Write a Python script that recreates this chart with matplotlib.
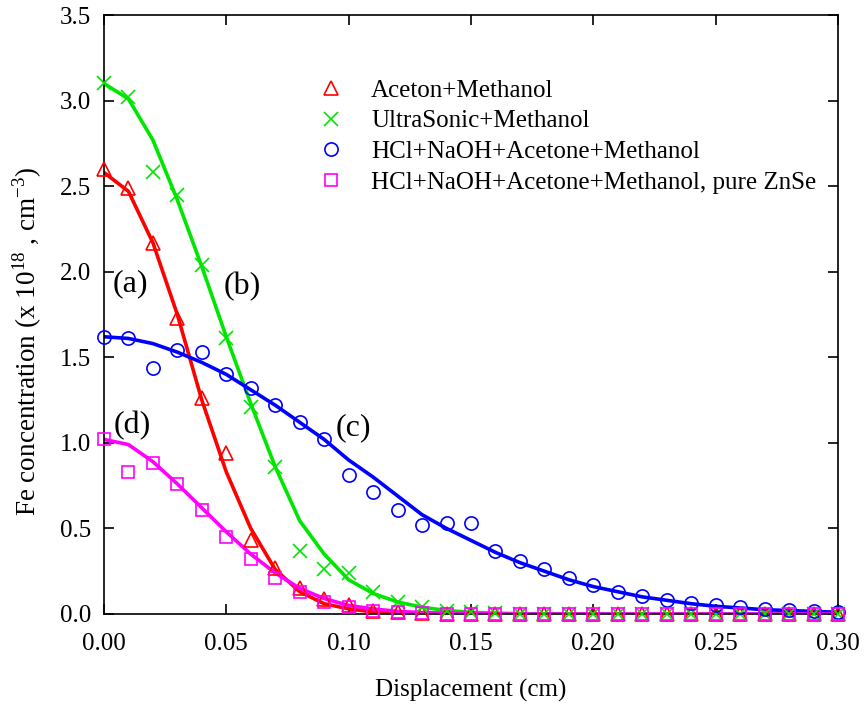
import matplotlib
matplotlib.use("Agg")
import matplotlib.pyplot as plt
import numpy as np

plt.rcParams['font.family'] = ['Liberation Serif', 'DejaVu Serif']
plt.rcParams['mathtext.fontset'] = 'custom'
plt.rcParams['mathtext.rm'] = 'Liberation Serif'

# Displacement grid (cm)
x = [round(0.01 * i, 2) for i in range(31)]

# Measured Fe concentration (x1e18 cm^-3)
aceton_pts = [2.60, 2.49, 2.17, 1.73, 1.26, 0.94, 0.43, 0.27, 0.15, 0.09, 0.05,
              0.02, 0.01, 0.005, 0.0, 0.0, 0.0, 0.0, 0.0, 0.0, 0.0, 0.0, 0.0, 0.0,
              0.0, 0.0, 0.0, 0.0, 0.0, 0.0, 0.0]
ultra_pts = [3.10, 3.02, 2.58, 2.45, 2.04, 1.61, 1.21, 0.86, 0.37, 0.26, 0.24,
             0.13, 0.07, 0.04, 0.02, 0.01, 0.005, 0.0, 0.0, 0.0, 0.0, 0.0, 0.0,
             0.0, 0.0, 0.0, 0.0, 0.0, 0.0, 0.0, 0.0]
hcl_pts = [1.62, 1.61, 1.44, 1.54, 1.53, 1.40, 1.32, 1.22, 1.12, 1.02, 0.81,
           0.71, 0.61, 0.52, 0.53, 0.53, 0.37, 0.31, 0.26, 0.21, 0.17, 0.13,
           0.105, 0.08, 0.064, 0.052, 0.04, 0.03, 0.022, 0.02, 0.013]
znse_pts = [1.02, 0.83, 0.88, 0.76, 0.61, 0.45, 0.32, 0.21, 0.13, 0.07, 0.04,
            0.02, 0.01, 0.005, 0.0, 0.0, 0.0, 0.0, 0.0, 0.0, 0.0, 0.0, 0.0, 0.0,
            0.0, 0.0, 0.0, 0.0, 0.0, 0.0, 0.0]

# Fitted diffusion profiles
aceton_fit = [2.58, 2.47, 2.17, 1.75, 1.25, 0.83, 0.50, 0.26, 0.13, 0.06, 0.03,
              0.012, 0.005, 0.002, 0.0, 0.0, 0.0, 0.0, 0.0, 0.0, 0.0, 0.0, 0.0,
              0.0, 0.0, 0.0, 0.0, 0.0, 0.0, 0.0, 0.0]
ultra_fit = [3.10, 3.01, 2.77, 2.42, 2.03, 1.62, 1.23, 0.86, 0.545, 0.35, 0.20,
             0.12, 0.07, 0.04, 0.02, 0.01, 0.005, 0.002, 0.0, 0.0, 0.0, 0.0,
             0.0, 0.0, 0.0, 0.0, 0.0, 0.0, 0.0, 0.0, 0.0]
hcl_fit = [1.62, 1.61, 1.58, 1.53, 1.47, 1.40, 1.31, 1.22, 1.12, 1.02, 0.90,
           0.80, 0.69, 0.58, 0.50, 0.43, 0.36, 0.30, 0.25, 0.20, 0.16, 0.13,
           0.10, 0.08, 0.06, 0.045, 0.035, 0.025, 0.02, 0.015, 0.01]
znse_fit = [1.02, 0.99, 0.89, 0.76, 0.62, 0.48, 0.35, 0.24, 0.15, 0.09, 0.05,
            0.03, 0.015, 0.008, 0.005, 0.003, 0.0, 0.0, 0.0, 0.0, 0.0, 0.0,
            0.0, 0.0, 0.0, 0.0, 0.0, 0.0, 0.0, 0.0, 0.0]

labels = ["Aceton+Methanol", "UltraSonic+Methanol",
          "HCl+NaOH+Acetone+Methanol", "HCl+NaOH+Acetone+Methanol, pure ZnSe"]
colors = ["#ff0000", "#00e600", "#0000ff", "#ff00ff"]
markers = ["^", "x", "o", "s"]
msizes = [10.5, 10, 9.5, 9]

xticks = [0.00, 0.05, 0.10, 0.15, 0.20, 0.25, 0.30]
yticks = [0.0, 0.5, 1.0, 1.5, 2.0, 2.5, 3.0, 3.5]

fig = plt.figure(figsize=(8.66, 7.08), dpi=100)
ax = fig.add_axes([0.120, 0.1328, 0.8477, 0.846])

fits = [aceton_fit, ultra_fit, hcl_fit, znse_fit]
pts = [aceton_pts, ultra_pts, hcl_pts, znse_pts]

for f, c in zip(fits, colors):
    ax.plot(x, f, color=c, lw=2.6, zorder=2)
for p, c, m, ms, lab in zip(pts, colors, markers, msizes, labels):
    ax.plot(x, p, linestyle='none', marker=m, ms=ms, mfc='none', mec=c,
            mew=1.2, label=lab, zorder=3, clip_on=False)

ax.set_xlim(0, 0.30)
ax.set_ylim(0, 3.5)
ax.set_xticks(xticks)
ax.set_yticks(yticks)
ax.set_xticklabels([f"{v:.2f}" for v in xticks])
ax.set_yticklabels([f"{v:.1f}" for v in yticks])
ax.tick_params(direction='in', length=7, width=1.2, labelsize=18,
               top=True, right=True)
ax.tick_params(axis='x', pad=14)
ax.tick_params(axis='y', pad=9)
for s in ax.spines.values():
    s.set_linewidth(1.2)

ax.set_xlabel("Displacement (cm)", fontsize=18)
ax.set_ylabel(r"Fe concentration (x 10$^{18}$ , cm$^{-3}$)", fontsize=19.5)
ax.xaxis.set_label_coords(0.5, -0.108)
ax.yaxis.set_label_coords(-0.081, 0.455)

for txt, tx, ty in [("(a)", 0.011, 1.93), ("(b)", 0.0565, 1.915),
                    ("(c)", 0.102, 1.09), ("(d)", 0.0115, 1.10)]:
    ax.text(tx, ty, txt, fontsize=23, ha='center', va='center')

leg = ax.legend(loc='upper left', bbox_to_anchor=(0.289, 0.893), frameon=False,
                fontsize=18, handlelength=1.2, handletextpad=1.0,
                labelspacing=0.33, borderaxespad=0, borderpad=0)

fig.savefig("out.png", dpi=100)
